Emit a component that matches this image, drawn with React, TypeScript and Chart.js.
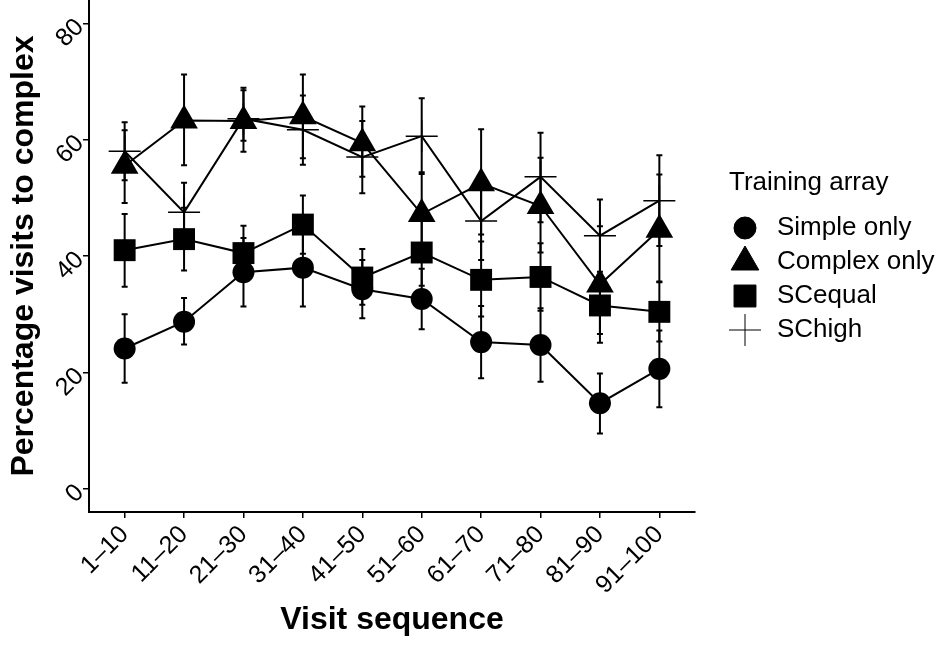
import React, { useEffect, useRef } from 'react';
import { Chart, registerables } from 'chart.js';
import { drawPoint } from 'chart.js/helpers';

Chart.register(...registerables);

const categories = ['1–10', '11–20', '21–30', '31–40', '41–50', '51–60', '61–70', '71–80', '81–90', '91–100'];
const yTicks = [0, 20, 40, 60, 80];

const simpleMean = [24.1, 28.7, 37.2, 38.0, 34.3, 32.6, 25.2, 24.7, 14.7, 20.6];
const simpleLow = [18.2, 24.8, 31.3, 31.3, 29.3, 27.4, 19.0, 18.4, 9.5, 14.0];
const simpleHigh = [30.0, 32.8, 43.1, 44.7, 39.3, 37.8, 31.4, 31.0, 19.8, 27.2];

const complexMean = [55.5, 63.3, 63.2, 64.0, 59.4, 47.2, 52.5, 48.6, 35.1, 44.5];
const complexLow = [49.1, 55.6, 57.9, 56.8, 53.6, 40.0, 43.7, 40.6, 25.1, 35.6];
const complexHigh = [63.0, 71.2, 68.5, 71.2, 65.7, 54.4, 61.8, 56.9, 45.1, 54.0];

const equalMean = [41.0, 42.9, 40.5, 45.4, 36.3, 40.6, 35.9, 36.4, 31.5, 30.4];
const equalLow = [34.7, 37.5, 35.8, 40.4, 31.6, 34.9, 29.6, 30.6, 26.6, 25.3];
const equalHigh = [47.2, 48.3, 45.2, 50.4, 41.2, 46.3, 42.5, 42.2, 36.4, 35.5];

const highMean = [58.0, 47.5, 63.6, 61.7, 57.0, 60.6, 46.0, 53.6, 43.5, 49.5];
const highLow = [53.0, 42.4, 59.8, 55.7, 50.8, 54.1, 39.3, 45.8, 37.3, 41.7];
const highHigh = [61.6, 52.6, 68.9, 67.6, 63.2, 67.1, 52.7, 61.2, 49.7, 57.3];

const FONT = '"Liberation Sans", Arial, Helvetica, sans-serif';

const series = [
  { label: 'Simple only', mean: simpleMean, low: simpleLow, high: simpleHigh, style: 'circle', radius: 11, border: 0 },
  { label: 'Complex only', mean: complexMean, low: complexLow, high: complexHigh, style: 'triangle', radius: 16, border: 0 },
  { label: 'SCequal', mean: equalMean, low: equalLow, high: equalHigh, style: 'rect', radius: 15.5, border: 0 },
  { label: 'SChigh', mean: highMean, low: highLow, high: highHigh, style: 'cross', radius: 16, border: 1.5 },
];

// error bars under the markers
const errorBars = {
  id: 'errorBars',
  beforeDatasetsDraw(chart: any) {
    const { ctx, scales: { x, y } } = chart;
    ctx.save();
    ctx.strokeStyle = '#000';
    ctx.lineWidth = 2;
    series.forEach(s => s.low.forEach((lo, i) => {
      const px = x.getPixelForValue(i);
      const y1 = y.getPixelForValue(lo);
      const y2 = y.getPixelForValue(s.high[i]);
      ctx.beginPath();
      ctx.moveTo(px, y1); ctx.lineTo(px, y2);
      ctx.moveTo(px - 3, y1); ctx.lineTo(px + 3, y1);
      ctx.moveTo(px - 3, y2); ctx.lineTo(px + 3, y2);
      ctx.stroke();
    }));
    ctx.restore();
  },
};

// ggplot-style legend on the right
const sideLegend = {
  id: 'sideLegend',
  afterDraw(chart: any) {
    const { ctx } = chart;
    ctx.save();
    ctx.fillStyle = '#000';
    ctx.textBaseline = 'middle';
    ctx.textAlign = 'left';
    ctx.font = `26px ${FONT}`;
    ctx.fillText('Training array', 729, 183);
    series.forEach((s, i) => {
      const cy = 228 + i * 34;
      ctx.fillStyle = '#000';
      ctx.strokeStyle = '#000';
      drawPoint(ctx, { pointStyle: s.style, radius: s.radius, rotation: 0, borderWidth: s.border || 1.5 }, 745, cy);
      ctx.fillText(s.label, 777, cy);
    });
    ctx.restore();
  },
};

export default function App() {
  const canvasRef = useRef<HTMLCanvasElement | null>(null);

  useEffect(() => {
    if (!canvasRef.current) return;
    const chart = new Chart(canvasRef.current, {
      type: 'scatter',
      data: {
        datasets: series.map(s => ({
          label: s.label,
          data: s.mean.map((v, i) => ({ x: i, y: v })),
          showLine: true,
          borderColor: '#000',
          borderWidth: 2,
          pointStyle: s.style as any,
          pointRadius: s.radius,
          pointBackgroundColor: '#000',
          pointBorderColor: '#000',
          pointBorderWidth: s.border,
        })),
      },
      options: {
        animation: false,
        responsive: true,
        maintainAspectRatio: false,
        layout: { autoPadding: false, padding: { left: 0, right: 255, top: 0, bottom: 0 } },
        plugins: { legend: { display: false }, tooltip: { enabled: false } },
        scales: {
          x: {
            type: 'linear',
            min: -0.6,
            max: 9.6,
            afterBuildTicks: (s: any) => { s.ticks = categories.map((_, i) => ({ value: i })); },
            afterFit: (s: any) => { s.height = 133; s.paddingLeft = 0; s.paddingRight = 0; },
            ticks: {
              autoSkip: false,
              minRotation: 45,
              maxRotation: 45,
              padding: 2,
              color: '#000',
              font: { family: FONT, size: 25 },
              callback: (v: any) => categories[Math.round(v)],
            },
            grid: { drawOnChartArea: false, drawTicks: true, tickLength: 6, color: '#000', lineWidth: 1.5 },
            border: { display: true, color: '#000', width: 2 },
            title: {
              display: true,
              text: 'Visit sequence',
              color: '#000',
              font: { family: FONT, size: 32, weight: 'bold' },
              padding: { top: 0, bottom: 6 },
            },
          },
          y: {
            type: 'linear',
            min: -4,
            max: 84,
            afterBuildTicks: (s: any) => { s.ticks = yTicks.map(v => ({ value: v })); },
            afterFit: (s: any) => { s.width = 89; s.paddingTop = 0; s.paddingBottom = 0; },
            ticks: {
              minRotation: 45,
              maxRotation: 45,
              padding: 3,
              color: '#000',
              font: { family: FONT, size: 25 },
            },
            grid: { drawOnChartArea: false, drawTicks: true, tickLength: 6, color: '#000', lineWidth: 1.5 },
            border: { display: true, color: '#000', width: 2 },
            title: {
              display: true,
              text: 'Percentage visits to complex',
              color: '#000',
              font: { family: FONT, size: 32, weight: 'bold' },
              padding: { top: 5, bottom: 0 },
            },
          },
        },
      },
      plugins: [errorBars, sideLegend],
    });
    return () => { chart.destroy(); };
  }, []);

  return (
    <div style={{ position: 'fixed', left: 0, top: 0, width: 950, height: 645, background: '#fff' }}>
      <canvas ref={canvasRef} />
    </div>
  );
}
